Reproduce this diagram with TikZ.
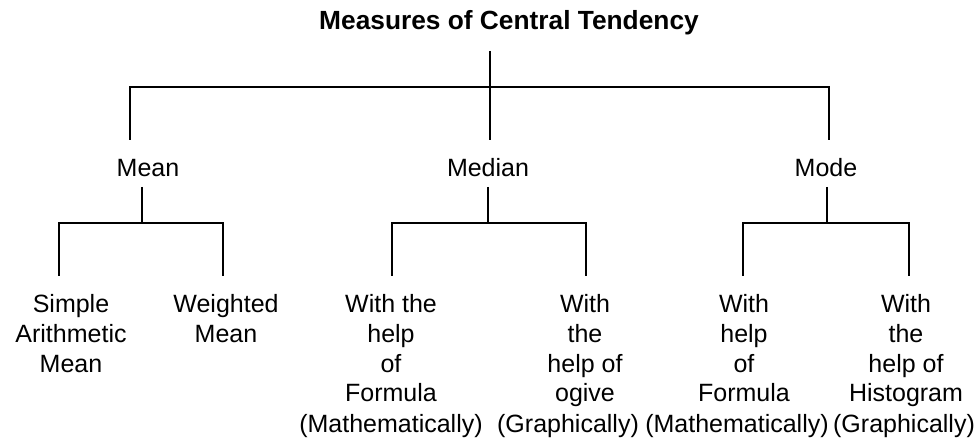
\documentclass[tikz,border=0pt]{standalone}
\usepackage{fontspec}
\setmainfont{Liberation Sans}
\begin{document}
\begin{tikzpicture}[x=1bp,y=-1bp,
  conn/.style={line width=2.6bp,line join=miter,line cap=butt},
  lbl/.style={anchor=base,inner sep=0pt,font=\fontsize{25bp}{29.8bp}\selectfont},
  ttl/.style={anchor=base,inner sep=0pt,font=\fontsize{26.3bp}{30bp}\selectfont\bfseries}]
\useasboundingbox (0,0) rectangle (975,445);
% title and level 2
\node[ttl] (title) at (509,30) {Measures of Central Tendency};
\node[lbl] (mean) at (148,177) {Mean};
\node[lbl] (median) at (488,177) {Median};
\node[lbl] (mode) at (826,177) {Mode};
% leaves
\node[lbl] (sam) at (71,312.5) {\begin{tabular}[t]{@{}c@{}}Simple\\Arithmetic\\Mean\end{tabular}};
\node[lbl] (wm) at (226,312.5) {\begin{tabular}[t]{@{}c@{}}Weighted\\Mean\end{tabular}};
\node[lbl] (medf) at (391,312.5) {\begin{tabular}[t]{@{}c@{}}With the\\help\\of\\Formula\end{tabular}};
\node[lbl] (medo) at (585,312.5) {\begin{tabular}[t]{@{}c@{}}With\\the\\help of\\ogive\end{tabular}};
\node[lbl] (modf) at (744,312.5) {\begin{tabular}[t]{@{}c@{}}With\\help\\of\\Formula\end{tabular}};
\node[lbl] (modh) at (906,312.5) {\begin{tabular}[t]{@{}c@{}}With\\the\\help of\\Histogram\end{tabular}};
% bottom row
\node[lbl] (medfm) at (391,432) {(Mathematically)};
\node[lbl] (medog) at (568,432) {(Graphically)};
\node[lbl] (modfm) at (737,432) {(Mathematically)};
\node[lbl] (modhg) at (904,432) {(Graphically)};
% connector points
\coordinate (rootOut) at (490,51);
\coordinate (bar1) at (490,87);
\coordinate (meanIn) at (130,140);
\coordinate (medianIn) at (490,140);
\coordinate (modeIn) at (829,140);
\coordinate (meanOut) at (142,187);
\coordinate (meanBar) at (142,223);
\coordinate (samIn) at (59,276);
\coordinate (wmIn) at (223,276);
\coordinate (medianOut) at (488,187);
\coordinate (medianBar) at (488,223);
\coordinate (medfIn) at (392,276);
\coordinate (medoIn) at (586,276);
\coordinate (modeOut) at (827,187);
\coordinate (modeBar) at (827,223);
\coordinate (modfIn) at (743,276);
\coordinate (modhIn) at (909,276);
% connectors
\draw[conn] (rootOut) -- (medianIn);
\draw[conn] (meanIn) |- (bar1) -| (modeIn);
\draw[conn] (meanOut) -- (meanBar);
\draw[conn] (samIn) |- (meanBar) -| (wmIn);
\draw[conn] (medianOut) -- (medianBar);
\draw[conn] (medfIn) |- (medianBar) -| (medoIn);
\draw[conn] (modeOut) -- (modeBar);
\draw[conn] (modfIn) |- (modeBar) -| (modhIn);
\end{tikzpicture}
\end{document}
